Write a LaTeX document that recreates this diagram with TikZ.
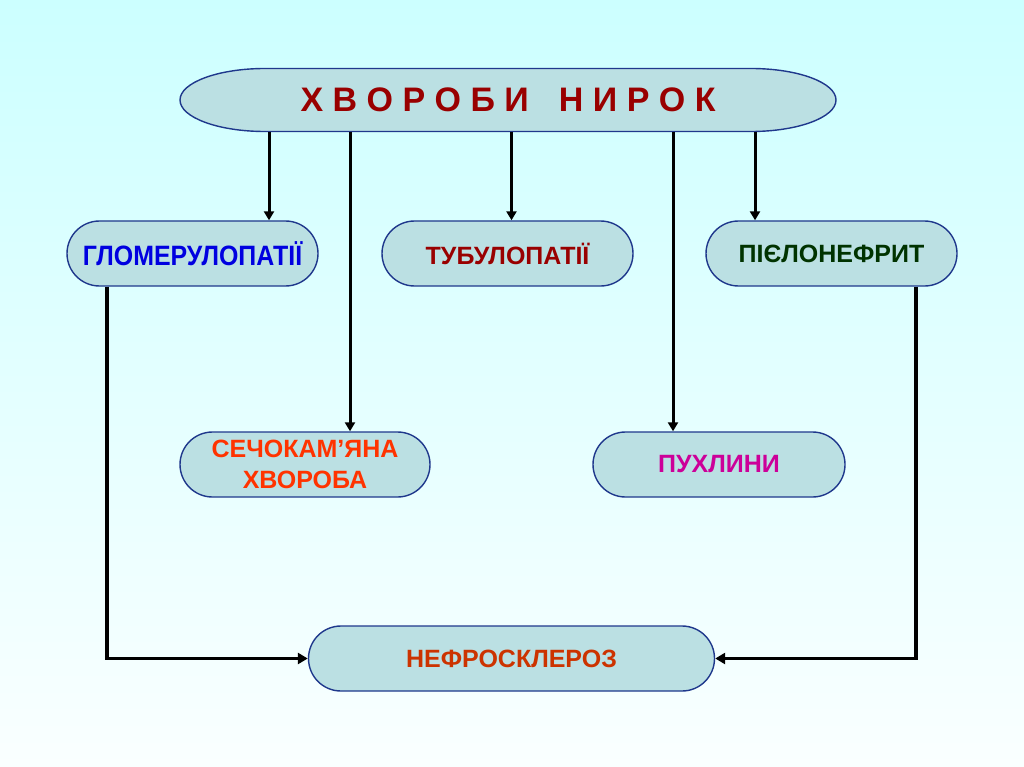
\documentclass[tikz,border=0pt]{standalone}
\usepackage{fontspec}
\setmainfont{Liberation Sans}
\newfontfamily\narrowsans[FakeStretch=0.89]{Liberation Sans}
\usepackage{tikz}
\usetikzlibrary{arrows.meta, positioning, calc, shapes.misc}
\definecolor{bgtop}{RGB}{204,255,255}
\definecolor{bgbot}{RGB}{250,255,255}
\definecolor{ovalfill}{RGB}{187,224,227}
\definecolor{ovalline}{RGB}{31,56,140}
\definecolor{titlered}{RGB}{153,0,0}
\definecolor{glomblue}{RGB}{0,0,224}
\definecolor{pielgreen}{RGB}{0,51,0}
\definecolor{stoneorange}{RGB}{255,51,0}
\definecolor{tumormag}{RGB}{204,0,153}
\definecolor{sclerbrown}{RGB}{204,51,0}
\tikzset{
	pillbox/.style={rounded rectangle, draw=ovalline, line width=1.4pt, fill=ovalfill, minimum height=65pt, minimum width=251pt, inner sep=0pt, align=center, font=\fontsize{25}{31}\selectfont\bfseries},
	downarr/.style={-{Triangle[length=9pt, width=10pt]}, line width=3pt},
	sidearr/.style={-{Triangle[length=10pt, width=11pt]}, line width=3.4pt},
}

\begin{document}
\begin{tikzpicture}[x=1pt, y=-1pt]
	% Background
	\fill[top color=bgtop, bottom color=bgbot] (0,0) rectangle (1024,767);

	% Title oval
	\coordinate (topc) at (508,100);
	\draw[draw=ovalline, fill=ovalfill, line width=1.4pt] ([xshift=-243pt, yshift=31.5pt]topc) -- ++(486pt,0pt) arc[start angle=90, end angle=-90, x radius=85pt, y radius=31.5pt] -- ++(-486pt,0pt) arc[start angle=270, end angle=90, x radius=85pt, y radius=31.5pt] -- cycle;
	\node[minimum width=656pt, minimum height=63pt, inner sep=0pt, text=titlered, font=\fontsize{34}{38}\selectfont\bfseries] (top) at (topc) {Х В О Р О Б И\hspace{30pt}Н И Р О К};

	% Middle row
	\node[pillbox, text=glomblue, font=\narrowsans\fontsize{28}{31}\selectfont\bfseries] (glom) at (192.5,253.5) {ГЛОМЕРУЛОПАТІЇ};
	\node[pillbox, text=titlered] (tubul) at (507.5,253.5) {ТУБУЛОПАТІЇ};
	\node[pillbox, text=pielgreen] (pielo) at (831.5,253.5) {ПІЄЛОНЕФРИТ};

	% Lower row
	\node[pillbox, minimum width=250pt, text=stoneorange] (stone) at (305,464.5) {СЕЧОКАМ’ЯНА\\ХВОРОБА};
	\node[pillbox, minimum width=252pt, text=tumormag] (tumor) at (719,464.5) {ПУХЛИНИ};

	% Bottom
	\node[pillbox, minimum width=406pt, text=sclerbrown] (scler) at (511.5,658.5) {НЕФРОСКЛЕРОЗ};

	% Arrows
	\draw[downarr] ([xshift=76.5pt]glom.north |- top.south) -- ([xshift=76.5pt]glom.north);
	\draw[downarr] ([xshift=45pt]stone.north |- top.south) -- ([xshift=45pt]stone.north);
	\draw[downarr] ([xshift=4pt]tubul.north |- top.south) -- ([xshift=4pt]tubul.north);
	\draw[downarr] ([xshift=-46pt]tumor.north |- top.south) -- ([xshift=-46pt]tumor.north);
	\draw[downarr] ([xshift=-76.5pt]pielo.north |- top.south) -- ([xshift=-76.5pt]pielo.north);
	\draw[sidearr] ([xshift=-85.5pt]glom.south) |- (scler.west);
	\draw[sidearr] ([xshift=84.5pt]pielo.south) |- (scler.east);
\end{tikzpicture}
\end{document}
